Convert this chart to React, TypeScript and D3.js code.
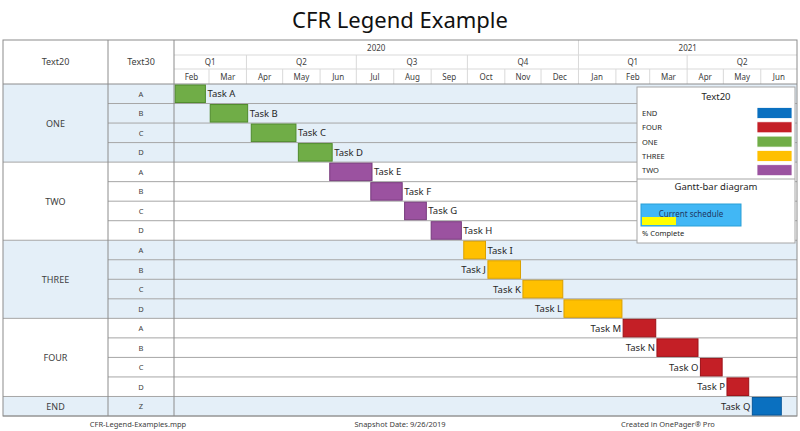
import React from 'react';
import * as d3 from 'd3';

const groups = ['ONE', 'TWO', 'THREE', 'FOUR', 'END'];
const groupColors = ['#70ad47', '#9b52a0', '#ffc000', '#c41f26', '#0a70c0'];
const groupStrokes = ['#4f8a2c', '#773a7c', '#d9a000', '#9c1218', '#07579a'];
const rowGroup = [0, 0, 0, 0, 1, 1, 1, 1, 2, 2, 2, 2, 3, 3, 3, 3, 4];
const rowCodes = ['A', 'B', 'C', 'D', 'A', 'B', 'C', 'D', 'A', 'B', 'C', 'D', 'A', 'B', 'C', 'D', 'Z'];
const taskNames = ['Task A', 'Task B', 'Task C', 'Task D', 'Task E', 'Task F', 'Task G', 'Task H', 'Task I',
  'Task J', 'Task K', 'Task L', 'Task M', 'Task N', 'Task O', 'Task P', 'Task Q'];
const taskStarts = ['2020-02-02', '2020-03-02', '2020-04-05', '2020-05-14', '2020-06-09', '2020-07-13', '2020-08-10',
  '2020-09-01', '2020-09-28', '2020-10-18', '2020-11-16', '2020-12-20', '2021-02-07', '2021-03-07', '2021-04-12',
  '2021-05-04', '2021-05-25'];
const taskEnds = ['2020-02-27', '2020-04-02', '2020-05-12', '2020-06-11', '2020-07-14', '2020-08-08', '2020-08-28',
  '2020-09-26', '2020-10-16', '2020-11-14', '2020-12-19', '2021-02-06', '2021-03-06', '2021-04-10', '2021-04-30',
  '2021-05-22', '2021-06-18'];
const labelLeftFrom = 'Task J';
const legendItems = ['END', 'FOUR', 'ONE', 'THREE', 'TWO'];
const footer = ['CFR-Legend-Examples.mpp', 'Snapshot Date: 9/26/2019', 'Created in OnePager® Pro'];

const W = 800;
const H = 431;
const font = "'Noto Sans', 'Open Sans', sans-serif";
const parse = d3.timeParse('%Y-%m-%d');

export default function App() {
  const left = 3, right = 797, c1 = 108, c2 = 174;
  const top = 40, yearB = 55, qB = 69, headB = 84, bodyB = 416;
  const domainStart = parse('2020-02-01')!;
  const domainEnd = parse('2021-07-01')!;
  const x = d3.scaleTime().domain([domainStart, domainEnd]).range([c2, right]);
  const y = d3.scaleBand<number>().domain(d3.range(rowCodes.length)).range([headB, bodyB]);
  const bw = y.bandwidth();

  const months = d3.timeMonth.range(domainStart, domainEnd);
  const quarters = months
    .filter((m, i) => i === 0 || m.getMonth() % 3 === 0)
    .map((m) => {
      const qStart = new Date(m.getFullYear(), Math.floor(m.getMonth() / 3) * 3, 1);
      const qEnd = d3.timeMonth.offset(qStart, 3);
      return { s: m < domainStart ? domainStart : m, e: qEnd > domainEnd ? domainEnd : qEnd, label: 'Q' + (Math.floor(m.getMonth() / 3) + 1) };
    });
  const years = d3.timeYear.range(d3.timeYear.floor(domainStart), domainEnd).map((yr) => {
    const s = yr < domainStart ? domainStart : yr;
    const e0 = d3.timeYear.offset(yr, 1);
    return { s, e: e0 > domainEnd ? domainEnd : e0, label: String(yr.getFullYear()) };
  });

  const leftIdx = taskNames.indexOf(labelLeftFrom);
  const lineC = '#a6a6a6';
  const txt = '#404040';

  // group spans
  const groupSpans = groups.map((g, gi) => {
    const rows = rowGroup.map((r, i) => (r === gi ? i : -1)).filter((i) => i >= 0);
    return { g, gi, y0: y(rows[0])!, y1: y(rows[rows.length - 1])! + bw };
  });

  return (
    <svg width={W} height={H} style={{ position: 'absolute', left: 0, top: 0, background: '#fff' }} fontFamily={font}>
      <text x={400} y={28} textAnchor="middle" fontSize={22} fill="#111">CFR Legend Example</text>

      {/* group backgrounds */}
      {groupSpans.map((s) => (
        <rect key={s.g} x={left} y={s.y0} width={right - left} height={s.y1 - s.y0}
          fill={s.gi % 2 === 0 ? '#e4eff8' : '#ffffff'} />
      ))}

      {/* header horizontal lines */}
      <line x1={c2} x2={right} y1={yearB} y2={yearB} stroke="#d9d9d9" />
      <line x1={c2} x2={right} y1={qB} y2={qB} stroke="#d9d9d9" />
      {months.slice(1).map((m, i) => (
        <line key={'m' + i} x1={x(m)} x2={x(m)} y1={qB} y2={headB} stroke="#d9d9d9" />
      ))}
      {quarters.slice(1).map((q, i) => (
        <line key={'q' + i} x1={x(q.s)} x2={x(q.s)} y1={yearB} y2={qB} stroke="#d9d9d9" />
      ))}
      {years.slice(1).map((yr, i) => (
        <line key={'y' + i} x1={x(yr.s)} x2={x(yr.s)} y1={top} y2={yearB} stroke="#d9d9d9" />
      ))}

      {months.map((m, i) => (
        <text key={'mt' + i} x={(x(m) + x(d3.timeMonth.offset(m, 1))) / 2} y={79.5} textAnchor="middle"
          fontSize={8} fill={txt}>{d3.timeFormat('%b')(m)}</text>
      ))}
      {quarters.map((q, i) => (
        <text key={'qt' + i} x={(x(q.s) + x(q.e)) / 2} y={65} textAnchor="middle" fontSize={8} fill={txt}>{q.label}</text>
      ))}
      {years.map((yr, i) => (
        <text key={'yt' + i} x={(x(yr.s) + x(yr.e)) / 2} y={51} textAnchor="middle" fontSize={8} fill={txt}>{yr.label}</text>
      ))}
      <text x={(left + c1) / 2} y={65} textAnchor="middle" fontSize={9} fill={txt}>Text20</text>
      <text x={(c1 + c2) / 2} y={65} textAnchor="middle" fontSize={9} fill={txt}>Text30</text>

      {/* row lines */}
      {rowCodes.map((_, i) => (
        <line key={'r' + i} x1={c1} x2={right} y1={y(i)! + bw} y2={y(i)! + bw} stroke={lineC} />
      ))}
      {groupSpans.map((s) => (
        <g key={'gl' + s.g}>
          <line x1={left} x2={c1} y1={s.y1} y2={s.y1} stroke={lineC} />
          <text x={(left + c1) / 2} y={(s.y0 + s.y1) / 2 + 3.5} textAnchor="middle" fontSize={9} fill={txt}>{s.g}</text>
        </g>
      ))}
      {rowCodes.map((c, i) => (
        <text key={'c' + i} x={(c1 + c2) / 2} y={y(i)! + bw / 2 + 3} textAnchor="middle" fontSize={7.5} fill={txt}>{c}</text>
      ))}

      <line x1={left} x2={right} y1={headB} y2={headB} stroke="#8c8c8c" />
      <line x1={c1} x2={c1} y1={top} y2={bodyB} stroke="#8c8c8c" />
      <line x1={c2} x2={c2} y1={top} y2={bodyB} stroke="#8c8c8c" />
      <rect x={left} y={top} width={right - left} height={bodyB - top} fill="none" stroke="#8c8c8c" />

      {/* bars */}
      {taskNames.map((t, i) => {
        const gi = rowGroup[i];
        const x0 = x(parse(taskStarts[i])!);
        const x1 = x(parse(taskEnds[i])!);
        const onLeft = i >= leftIdx;
        return (
          <g key={t}>
            <rect x={x0} y={y(i)! + 1} width={x1 - x0} height={bw - 2} fill={groupColors[gi]}
              stroke={groupStrokes[gi]} strokeWidth={1} />
            <text x={onLeft ? x0 - 2 : x1 + 2} y={y(i)! + bw / 2 + 3.5} textAnchor={onLeft ? 'end' : 'start'}
              fontSize={9.5} fill="#262626">{t}</text>
          </g>
        );
      })}

      {/* legend */}
      <g>
        <rect x={637} y={87} width={158} height={156} fill="#fff" stroke="#a6a6a6" />
        <text x={716} y={100} textAnchor="middle" fontSize={9.5} fill="#262626">Text20</text>
        {legendItems.map((g, i) => {
          const gi = groups.indexOf(g);
          const cy = 113 + i * 14.3;
          return (
            <g key={'lg' + g}>
              <text x={642} y={cy + 3} fontSize={7.5} fill="#262626">{g}</text>
              <rect x={757} y={cy - 5.5} width={35} height={11} fill={groupColors[gi]} stroke="#fff" strokeWidth={0.8} />
            </g>
          );
        })}
        <line x1={637} x2={795} y1={179} y2={179} stroke="#a6a6a6" />
        <text x={716} y={190} textAnchor="middle" fontSize={9.5} fill="#262626">Gantt-bar diagram</text>
        <rect x={641} y={204} width={100} height={22} fill="#41b7f5" stroke="#2a9fd6" />
        <rect x={642} y={217} width={34} height={8} fill="#ffff00" />
        <text x={691} y={217} textAnchor="middle" fontSize={8} fill="#1f3864">Current schedule</text>
        <text x={642} y={236} fontSize={7.5} fill="#262626">% Complete</text>
      </g>

      {/* footer */}
      {footer.map((f, i) => (
        <text key={'f' + i} x={[138, 400, 668][i]} y={427} textAnchor="middle" fontSize={7.5} fill={txt}>{f}</text>
      ))}
    </svg>
  );
}
